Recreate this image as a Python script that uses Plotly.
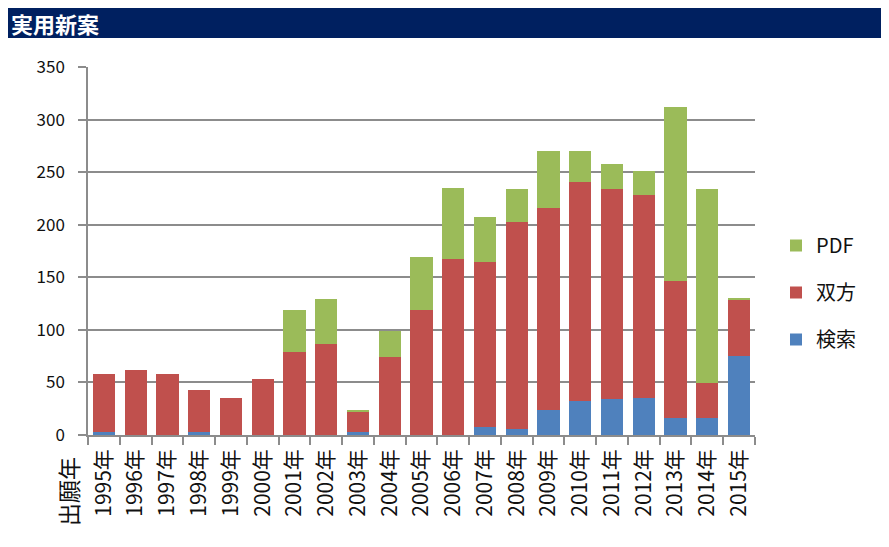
import plotly.graph_objects as go

years = ["1995年", "1996年", "1997年", "1998年", "1999年", "2000年", "2001年",
         "2002年", "2003年", "2004年", "2005年", "2006年", "2007年", "2008年",
         "2009年", "2010年", "2011年", "2012年", "2013年", "2014年", "2015年"]

# 検索 (search), 双方 (both), PDF
kensaku = [3, 0, 0, 3, 0, 0, 0, 0, 3, 0, 0, 0, 8, 6, 24, 32, 34, 35, 16, 16, 75]
souhou = [55, 62, 58, 40, 35, 53, 79, 87, 19, 74, 119, 167, 157, 197, 192, 209, 200, 193, 130, 33, 54]
pdf = [0, 0, 0, 0, 0, 0, 40, 42, 2, 25, 50, 68, 42, 31, 54, 29, 24, 23, 166, 185, 1]

# the page body adds an 8px margin, so the figure is 8px smaller
OFF = 8
W, H = 889 - OFF, 547 - OFF
L, T = 88 - OFF, 67 - OFF
R, B = W - (755 - OFF), H - (435 - OFF)
pw, ph = W - L - R, H - T - B


# reference pixel -> paper coordinates
def px_x(p):
    return (p - OFF - L) / pw


def px_y(p):
    return (H - B - (p - OFF)) / ph


font = "Noto Sans CJK JP, Meiryo, sans-serif"

fig = go.Figure()
series = [("検索", kensaku, "#4F81BD"), ("双方", souhou, "#C0504D"), ("PDF", pdf, "#9BBB59")]
for i, (name, vals, col) in enumerate(series):
    fig.add_trace(go.Bar(x=years, y=vals, name=name, legendgroup=name,
                         legendrank=10 - i,
                         marker=dict(color=col, line=dict(width=0))))

fig.update_layout(
    width=W, height=H,
    barmode="stack", bargap=0.3,
    margin=dict(l=L, r=R, t=T, b=B),
    plot_bgcolor="white", paper_bgcolor="white",
    font=dict(family=font, size=16, color="#111"),
    showlegend=True,
    legend=dict(x=px_x(776), y=px_y(226), xanchor="left", yanchor="top",
                traceorder="grouped", tracegroupgap=18,
                font=dict(size=20, color="#111"), itemwidth=30),
    shapes=[
        dict(type="rect", xref="paper", yref="paper",
             x0=px_x(8), x1=px_x(900), y0=px_y(38), y1=px_y(8),
             line=dict(width=0), fillcolor="#002060", layer="below"),
    ],
    annotations=[
        dict(text="<b>実用新案</b>", xref="paper", yref="paper",
             x=px_x(9), y=px_y(23), xanchor="left", yanchor="middle",
             showarrow=False, font=dict(size=22, color="white", family=font)),
        dict(text="出願年", xref="paper", yref="paper",
             x=px_x(68), y=px_y(492), xanchor="center", yanchor="middle",
             textangle=-90, showarrow=False, font=dict(size=23, color="#111", family=font)),
    ],
)

fig.update_yaxes(range=[0, 350], dtick=50, showgrid=True, gridcolor="#8c8c8c", gridwidth=1.5,
                 showline=True, linecolor="#8c8c8c", linewidth=1.5,
                 ticks="outside", ticklen=8, tickcolor="#8c8c8c", tickwidth=1.5,
                 ticklabelstandoff=10, tickfont=dict(size=17), zeroline=False)
fig.update_xaxes(showline=True, linecolor="#8c8c8c", linewidth=1.5,
                 ticks="outside", ticklen=8, tickcolor="#8c8c8c", tickwidth=1.5,
                 tickson="boundaries", tickangle=-90, ticklabelstandoff=4,
                 tickfont=dict(size=21))

fig.write_html("out.html")
